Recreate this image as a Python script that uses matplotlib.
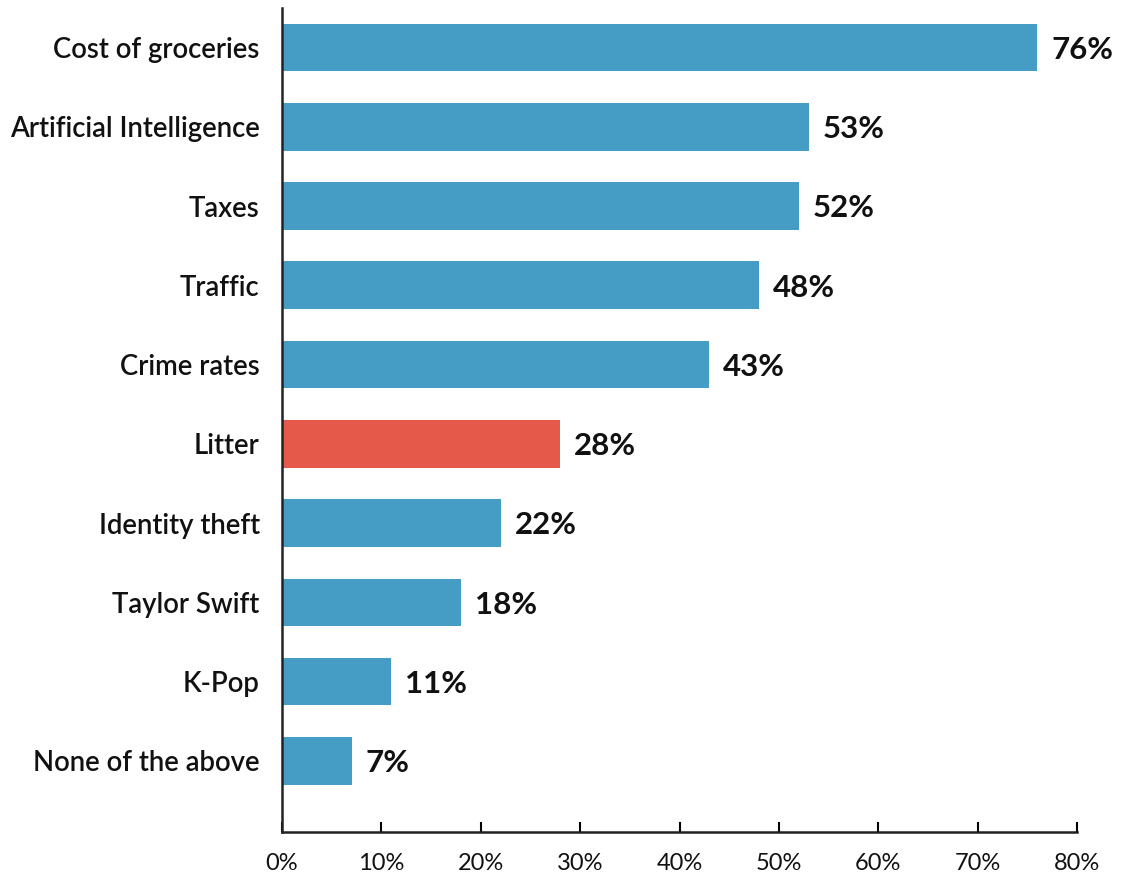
import matplotlib.pyplot as plt
import numpy as np

categories = ['Cost of groceries', 'Artificial Intelligence', 'Taxes', 'Traffic',
              'Crime rates', 'Litter', 'Identity theft', 'Taylor Swift', 'K-Pop',
              'None of the above']
values = [76, 53, 52, 48, 43, 28, 22, 18, 11, 7]
highlight = 'Litter'
ticks = [0, 10, 20, 30, 40, 50, 60, 70, 80]

plt.rcParams['font.family'] = ['Lato', 'DejaVu Sans']

fig = plt.figure(figsize=(11.22, 8.75), dpi=100)
ax = fig.add_axes([0.2513, 0.049, 0.7087, 0.942])

colors = ['#E5594B' if c == highlight else '#459CC5' for c in categories]
y = np.arange(len(categories))
ax.barh(y, values, height=0.6, color=colors)

for yi, v in zip(y, values):
    ax.text(v + 1.4, yi + 0.03, f'{v}%', va='center', ha='left',
            fontsize=22.5, fontweight='bold', color='#111111')

ax.set_yticks(y)
ax.set_yticklabels(categories, fontsize=19.8, fontweight='semibold', color='#111111')
ax.tick_params(axis='y', length=0, pad=16)
ax.set_xticks(ticks)
ax.set_xticklabels([f'{t}%' for t in ticks], fontsize=17, color='#111111')
ax.tick_params(axis='x', direction='in', length=7, width=1.5, pad=15)

ax.set_xlim(0, 80)
ax.set_ylim(9.9, -0.5)

for s in ['top', 'right']:
    ax.spines[s].set_visible(False)
for s in ['left', 'bottom']:
    ax.spines[s].set_linewidth(1.8)
    ax.spines[s].set_color('#222222')

plt.savefig('out.png')
